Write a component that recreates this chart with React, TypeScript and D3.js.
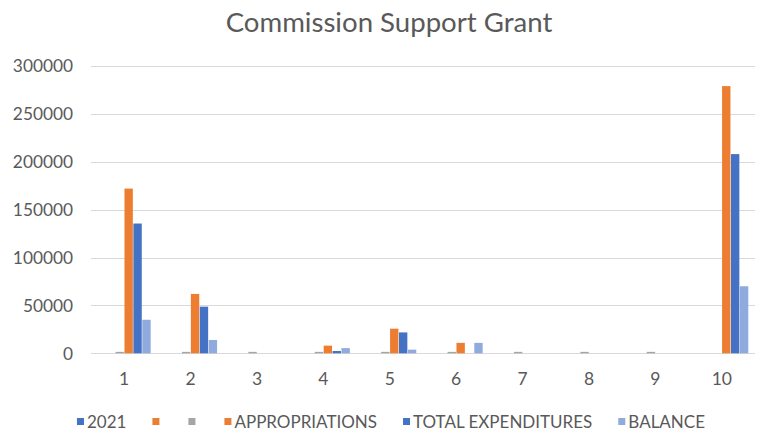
import * as d3 from "d3";
import { useEffect, useRef } from "react";

// categories on the x axis
const categories = ["1", "2", "3", "4", "5", "6", "7", "8", "9", "10"];

// series (legend order = bar order inside each group)
const seriesNames = ["2021", "", "", "APPROPRIATIONS", "TOTAL EXPENDITURES", "BALANCE"];
const seriesColors = ["#4472C4", "#ED7D31", "#A5A5A5", "#ED7D31", "#4472C4", "#8FAADC"];

const values2021 = [0, 0, 0, 0, 0, 0, 0, 0, 0, 0];
const valuesBlankA = [0, 0, 0, 0, 0, 0, 0, 0, 0, 0];
const valuesBlankB = [1500, 1500, 1500, 1500, 1500, 1500, 1500, 1500, 1500, 0];
const appropriations = [172000, 62000, 0, 8000, 25700, 10900, 0, 0, 0, 279000];
const totalExpenditures = [135500, 48700, 0, 2400, 21800, 0, 0, 0, 0, 208000];
const balance = [35000, 13900, 0, 5400, 3800, 10900, 0, 0, 0, 70000];

const yTicks = [0, 50000, 100000, 150000, 200000, 250000, 300000];

const App = () => {
  const ref = useRef(null);

  useEffect(() => {
    if (!ref.current) return;
    ref.current.innerHTML = "";
    document.body.style.margin = "0";

    const width = 758;
    const height = 433;
    const font = "Lato, 'Open Sans', sans-serif";
    const textColor = "#595959";

    const series = [values2021, valuesBlankA, valuesBlankB, appropriations, totalExpenditures, balance];

    const svg = d3.select(ref.current)
      .attr("width", width)
      .attr("height", height)
      .style("display", "block")
      .style("background", "#fff");

    // scales
    const x0 = d3.scaleBand().domain(categories).range([91, 755]).paddingInner(0.187).paddingOuter(0.0935);
    const x1 = d3.scaleBand().domain(d3.range(series.length).map(String)).range([0, x0.bandwidth()]).padding(0.06);
    const y = d3.scaleLinear().domain([0, 300000]).range([353.3, 66]);

    // title
    const title = svg.append("text")
      .attr("x", 389)
      .attr("y", 32)
      .attr("text-anchor", "middle")
      .attr("font-family", font)
      .attr("font-size", 24)
      .attr("fill", textColor)
      .text("Commission Support Grant");
    const tw = title.node().getComputedTextLength();
    title.attr("font-size", 24 * Math.min(1.15, 328 / tw));

    // gridlines
    svg.append("g")
      .selectAll("line")
      .data(yTicks)
      .join("line")
        .attr("x1", 91)
        .attr("x2", 755)
        .attr("y1", d => Math.round(y(d)) + 0.5)
        .attr("y2", d => Math.round(y(d)) + 0.5)
        .attr("stroke", "#D9D9D9")
        .attr("stroke-width", 1);

    // y tick labels
    svg.append("g")
      .selectAll("text")
      .data(yTicks)
      .join("text")
        .attr("x", 73)
        .attr("y", d => y(d))
        .attr("dy", "0.36em")
        .attr("text-anchor", "end")
        .attr("font-family", font)
        .attr("font-size", 17.3)
        .attr("fill", textColor)
        .text(d => String(d));

    // bars
    const groups = svg.append("g")
      .selectAll("g")
      .data(categories)
      .join("g")
        .attr("transform", c => `translate(${x0(c)},0)`);

    groups.selectAll("rect")
      .data((c, ci) => series.map((s, si) => ({ si, v: s[ci] })))
      .join("rect")
        .attr("x", d => x1(String(d.si)))
        .attr("width", x1.bandwidth())
        .attr("y", d => y(d.v))
        .attr("height", d => y(0) - y(d.v))
        .attr("fill", d => seriesColors[d.si]);

    // x tick labels
    svg.append("g")
      .selectAll("text")
      .data(categories)
      .join("text")
        .attr("x", c => x0(c) + x0.bandwidth() / 2)
        .attr("y", 385)
        .attr("text-anchor", "middle")
        .attr("font-family", font)
        .attr("font-size", 17.5)
        .attr("fill", textColor)
        .text(c => c);

    // legend, laid out in sequence and centred
    const legend = svg.append("g");
    const items = legend.selectAll("g")
      .data(seriesNames)
      .join("g");
    items.append("rect")
      .attr("width", 7)
      .attr("height", 7)
      .attr("y", 418)
      .attr("fill", (d, i) => seriesColors[i]);
    items.append("text")
      .attr("x", 10)
      .attr("y", 428)
      .attr("font-family", font)
      .attr("font-size", 17)
      .attr("fill", textColor)
      .text(d => d);

    let cursor = 0;
    const offsets = [];
    items.each(function () {
      const t = d3.select(this).select("text").node();
      const w = t.textContent ? t.getComputedTextLength() : 0;
      offsets.push(cursor);
      cursor += 10 + w + 26;
    });
    const total = cursor - 26;
    const start = 391 - total / 2;
    items.attr("transform", (d, i) => `translate(${start + offsets[i]},0)`);
  }, []);

  return <svg ref={ref} />;
};

export default App;
